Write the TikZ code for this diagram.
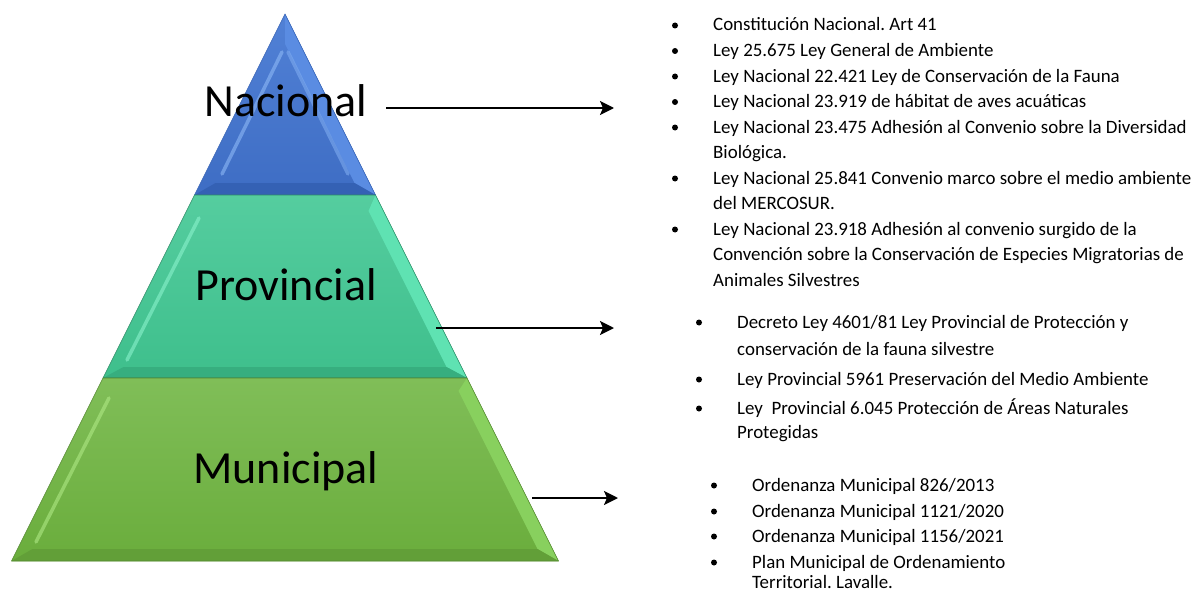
\documentclass[tikz,border=0pt]{standalone}
\usepackage{fontspec}
\setmainfont{Carlito}
\usetikzlibrary{arrows.meta}
\frenchspacing
\definecolor{nacIn}{HTML}{3E6DC4}
\definecolor{nacTop}{HTML}{5181D6}
\definecolor{nacHi}{HTML}{8DB8F6}
\definecolor{nacSide}{HTML}{5A8CE2}
\definecolor{nacLo}{HTML}{3461B4}
\definecolor{provIn}{HTML}{3EBF8C}
\definecolor{provTop}{HTML}{55CD9F}
\definecolor{provHi}{HTML}{8AF2CC}
\definecolor{provSide}{HTML}{5FE2B2}
\definecolor{provLo}{HTML}{37AE7F}
\definecolor{munIn}{HTML}{6AAD3C}
\definecolor{munTop}{HTML}{80BE58}
\definecolor{munHi}{HTML}{AEE884}
\definecolor{munSide}{HTML}{88D05E}
\definecolor{munLo}{HTML}{629F38}
\tikzset{
  lbl/.style={font=\fontsize{46}{50}\selectfont, inner sep=0pt},
  ley/.style={anchor=base west, inner sep=0pt},
  flecha/.style={->, line width=2pt},
  borde/.style={line width=0.6pt},
  brillo/.style={line width=3.5pt, line cap=round, opacity=0.6}
}
\begin{document}
\begin{tikzpicture}[x=1pt, y=-1pt, line join=round, >={Stealth[length=14pt,width=14pt,inset=3pt]}, font=\fontsize{18.9}{22}\selectfont]
\useasboundingbox (0,0) rectangle (1197,594);
% nivel nacional
\shade[top color=nacTop, bottom color=nacIn] (285,14) -- (375.5,195) -- (194.5,195) -- cycle;
\fill[nacSide] (285,14) -- (375.5,195) -- (354.5,183) -- (285,44) -- cycle;
\fill[nacLo] (194.5,195) -- (375.5,195) -- (354.5,183) -- (215.5,183) -- cycle;
\draw[brillo, nacHi] (282,52) -- (222,174);
\draw[brillo, nacHi!70!nacSide] (288,52) -- (348,174);
\draw[borde, nacLo] (285,14) -- (375.5,195) -- (194.5,195) -- cycle;
% nivel provincial
\shade[top color=provTop, bottom color=provIn] (194.5,195) -- (375.5,195) -- (467,378) -- (103,378) -- cycle;
\fill[provSide] (375.5,195) -- (467,378) -- (446.5,367) -- (368.5,211) -- cycle;
\fill[provLo] (103,378) -- (467,378) -- (446.5,367) -- (123.5,367) -- cycle;
\draw[brillo, provHi] (199,218) -- (127,360);
\draw[borde, provLo!80!black] (194.5,195) -- (375.5,195) -- (467,378) -- (103,378) -- cycle;
% nivel municipal
\shade[top color=munTop, bottom color=munIn] (103,378) -- (467,378) -- (558.5,561) -- (11.5,561) -- cycle;
\fill[munSide] (467,378) -- (558.5,561) -- (537.5,549) -- (458.5,391) -- cycle;
\fill[munLo] (11.5,561) -- (558.5,561) -- (537.5,549) -- (32.5,549) -- cycle;
\draw[brillo, munHi] (109,398) -- (36,542);
\draw[borde, munLo!85!black] (103,378) -- (467,378) -- (558.5,561) -- (11.5,561) -- cycle;
% etiquetas
\node[lbl, anchor=base] (nac) at (286,117) {Nacional};
\node[lbl, anchor=base] (prov) at (286,300) {Provincial};
\node[lbl, anchor=base] (mun) at (286,483) {Municipal};
% flechas
\coordinate (nacA) at (386,108);
\coordinate (nacB) at (614,108);
\coordinate (provA) at (436,328);
\coordinate (provB) at (614,328);
\coordinate (munA) at (532,498);
\coordinate (munB) at (618,498);
\draw[flecha] (nacA) -- (nacB);
\draw[flecha] (provA) -- (provB);
\draw[flecha] (munA) -- (munB);
% normas nacionales
\foreach \y in {31,56.5,82,107.5,133,184,235} \fill (675,\y-5.5) circle (3);
\node[ley] (n1) at (713,31) {Constitución Nacional. Art 41};
\node[ley] (n2) at (713,56.5) {Ley 25.675 Ley General de Ambiente};
\node[ley] (n3) at (713,82) {Ley Nacional 22.421 Ley de Conservación de la Fauna};
\node[ley] (n4) at (713,107.5) {Ley Nacional 23.919 de hábitat de aves acuáticas};
\node[ley] (n5) at (713,133) {Ley Nacional 23.475 Adhesión al Convenio sobre la Diversidad};
\node[ley] (n6) at (713,158.5) {Biológica.};
\node[ley] (n7) at (713,184) {Ley Nacional 25.841 Convenio marco sobre el medio ambiente};
\node[ley] (n8) at (713,209.5) {del MERCOSUR.};
\node[ley] (n9) at (713,235) {Ley Nacional 23.918 Adhesión al convenio surgido de la};
\node[ley] (n10) at (713,260.5) {Convención sobre la Conservación de Especies Migratorias de};
\node[ley] (n11) at (713,286) {Animales Silvestres};
% normas provinciales
\foreach \y in {328,385,414} \fill (699,\y-5.5) circle (3);
\node[ley] (p1) at (737,328) {Decreto Ley 4601/81 Ley Provincial de Protección y};
\node[ley] (p2) at (737,355) {conservación de la fauna silvestre};
\node[ley] (p3) at (737,385) {Ley Provincial 5961 Preservación del Medio Ambiente};
\node[ley] (p4) at (737,414) {Ley\ \ Provincial 6.045 Protección de Áreas Naturales};
\node[ley] (p5) at (737,438) {Protegidas};
% normas municipales
\foreach \y in {491,517,542,568} \fill (714,\y-5.5) circle (3);
\node[ley] (m1) at (752,491) {Ordenanza Municipal 826/2013};
\node[ley] (m2) at (752,517) {Ordenanza Municipal 1121/2020};
\node[ley] (m3) at (752,542) {Ordenanza Municipal 1156/2021};
\node[ley] (m4) at (752,568) {Plan Municipal de Ordenamiento};
\node[ley] (m5) at (752,588) {Territorial. Lavalle.};
\end{tikzpicture}
\end{document}
